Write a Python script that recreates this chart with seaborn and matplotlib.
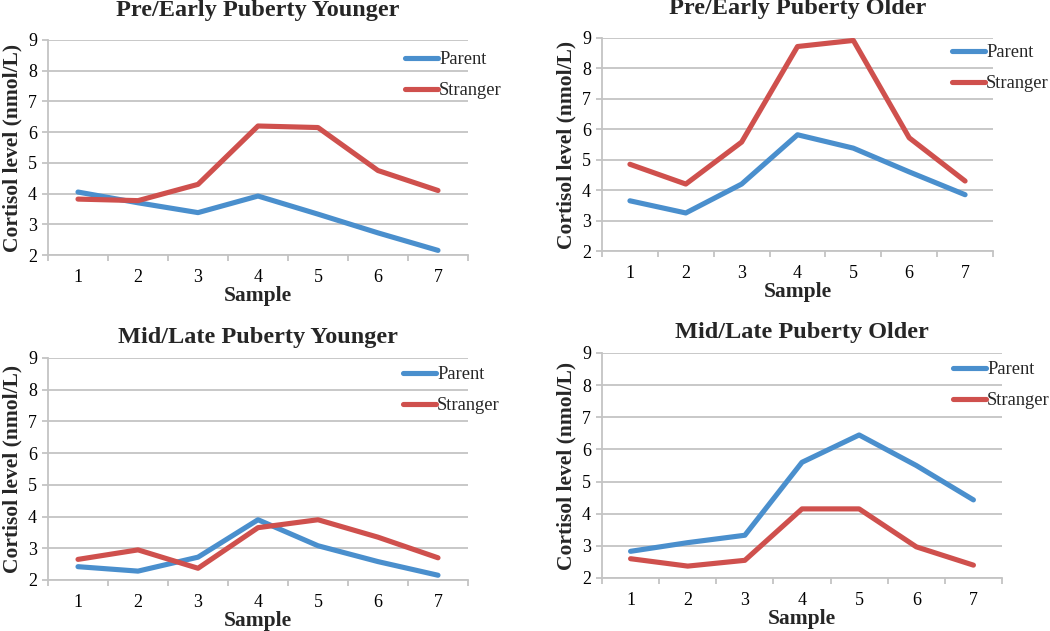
import numpy as np
import pandas as pd
import matplotlib
import seaborn as sns

matplotlib.use("Agg")
from matplotlib import pyplot as plt

samples = [1, 2, 3, 4, 5, 6, 7]
groups = ["Parent", "Stranger"]
titles = [
    "Pre/Early Puberty Younger",
    "Pre/Early Puberty Older",
    "Mid/Late Puberty Younger",
    "Mid/Late Puberty Older",
]

pre_younger_parent = [4.05, 3.70, 3.38, 3.92, 3.33, 2.72, 2.15]
pre_younger_stranger = [3.82, 3.77, 4.30, 6.20, 6.15, 4.75, 4.10]
pre_older_parent = [3.65, 3.25, 4.20, 5.82, 5.38, 4.60, 3.85]
pre_older_stranger = [4.85, 4.20, 5.58, 8.72, 8.92, 5.72, 4.30]
mid_younger_parent = [2.42, 2.28, 2.72, 3.90, 3.08, 2.58, 2.15]
mid_younger_stranger = [2.65, 2.95, 2.37, 3.65, 3.90, 3.35, 2.70]
mid_older_parent = [2.83, 3.10, 3.33, 5.60, 6.45, 5.50, 4.43]
mid_older_stranger = [2.60, 2.37, 2.55, 4.15, 4.15, 2.97, 2.40]

series = [
    (pre_younger_parent, pre_younger_stranger),
    (pre_older_parent, pre_older_stranger),
    (mid_younger_parent, mid_younger_stranger),
    (mid_older_parent, mid_older_stranger),
]

W, H = 1050, 631
# axes boxes in pixels: left, top, right, bottom
boxes = [(48, 40, 468, 255), (602, 38, 993, 251), (48, 358, 468, 580), (602, 353, 1002, 578)]
# legend anchor (line start x, top of legend y) in pixels
legend_at = [(405, 51), (952, 44), (403, 366), (953, 361)]
title_pad = [17, 17, 11, 11]

palette = {"Parent": "#4A8FCD", "Stranger": "#CF504D"}
grid_color = "#C4C4C4"

sns.set_theme(style="white")
plt.rcParams["font.family"] = ["Liberation Serif", "DejaVu Serif"]

fig = plt.figure(figsize=(W / 100, H / 100), dpi=100)

for i, (box, (parent, stranger)) in enumerate(zip(boxes, series)):
    l, t, r, b = box
    ax = fig.add_axes([l / W, 1 - b / H, (r - l) / W, (b - t) / H])
    df = pd.DataFrame(
        {
            "Sample": samples * 2,
            "Cortisol": parent + stranger,
            "Group": ["Parent"] * 7 + ["Stranger"] * 7,
        }
    )
    sns.lineplot(data=df, x="Sample", y="Cortisol", hue="Group", hue_order=groups,
                 palette=palette, linewidth=3.7, ax=ax, legend=True)
    for line in ax.get_lines():
        line.set_solid_capstyle("round")
        line.set_solid_joinstyle("round")

    ax.set_xlim(0.5, 7.5)
    ax.set_ylim(2, 9)
    ax.set_yticks(range(2, 10))
    ax.set_xticks(samples)
    ax.set_xticks(np.arange(0.5, 8, 1), minor=True)
    ax.yaxis.grid(True, color=grid_color, linewidth=1.3)
    ax.xaxis.grid(False)
    ax.set_axisbelow(True)
    for side in ["top", "right"]:
        ax.spines[side].set_visible(False)
    for side in ["left", "bottom"]:
        ax.spines[side].set_color(grid_color)
        ax.spines[side].set_linewidth(1.3)
    ax.tick_params(axis="x", which="major", length=0, pad=10, labelsize=13, colors="black")
    ax.tick_params(axis="x", which="minor", length=4, width=1.3, color=grid_color, direction="out")
    ax.tick_params(axis="y", which="major", length=4, width=1.3, color=grid_color,
                   direction="out", pad=4, labelsize=13, labelcolor="black")
    ax.tick_params(axis="both", bottom=True, left=True, which="both")

    ax.set_title(titles[i], fontsize=17.5, fontweight="bold", pad=title_pad[i])
    ax.set_xlabel("Sample", fontsize=15.5, fontweight="bold", labelpad=0)
    ax.set_ylabel("Cortisol level (nmol/L)", fontsize=15.5, fontweight="bold", labelpad=4)

    lx, ly = legend_at[i]
    ax.legend(title=None, loc="upper left", bbox_to_anchor=(lx / W, 1 - ly / H),
              bbox_transform=fig.transFigure, frameon=False, fontsize=13.3,
              handlelength=1.8, handletextpad=0.05, labelspacing=0.78,
              borderpad=0, borderaxespad=0)

fig.savefig("out.png", dpi=100)
